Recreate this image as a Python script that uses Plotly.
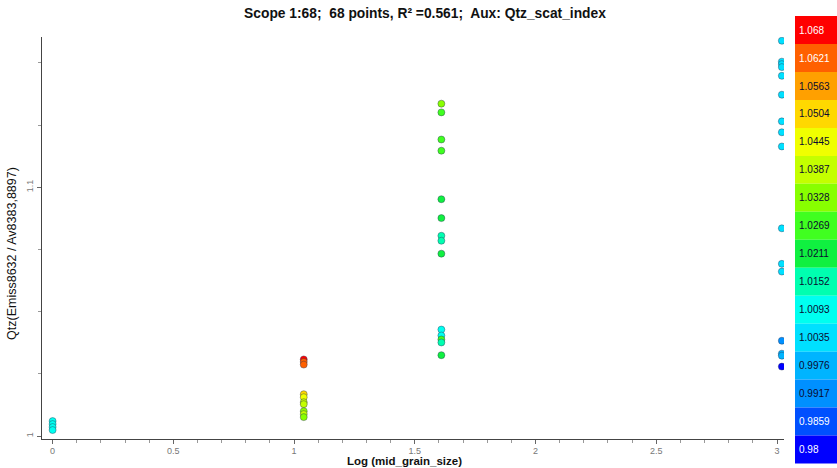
import plotly.graph_objects as go

# ---------------- data ----------------
x_log_size = ([0.0] * 4 + [1.04] * 10 + [1.61] * 14 + [3.02] * 16)
qtz_ratio = [
    1.0060, 1.0048, 1.0036, 1.0024,
    1.0308, 1.0298, 1.0287, 1.0168, 1.0156, 1.0136, 1.0128, 1.0100, 1.0088, 1.0076,
    1.1336, 1.1301, 1.1192, 1.1147, 1.0952, 1.0876, 1.0805, 1.0785, 1.0733,
    1.0428, 1.0404, 1.0388, 1.0376, 1.0325,
    1.1589, 1.1505, 1.1495, 1.1483, 1.1448, 1.1372, 1.1265, 1.1221, 1.1164,
    1.0835, 1.0692, 1.0661, 1.0383, 1.0331, 1.0323, 1.0279,
]
aux_index = [
    1.008, 1.008, 1.007, 1.007,
    1.068, 1.065, 1.062, 1.049, 1.047, 1.040, 1.038, 1.033, 1.036, 1.030,
    1.034, 1.028, 1.026, 1.026, 1.021, 1.020, 1.017, 1.017, 1.019,
    1.010, 1.011, 1.024, 1.014, 1.022,
    1.006, 1.006, 1.005, 1.006, 1.006, 1.006, 1.006, 1.005, 1.006,
    1.006, 1.005, 1.006, 0.993, 0.996, 0.997, 0.982,
]

band_labels = ["0.98", "0.9859", "0.9917", "0.9976", "1.0035", "1.0093", "1.0152", "1.0211",
               "1.0269", "1.0328", "1.0387", "1.0445", "1.0504", "1.0563", "1.0621", "1.068"]
band_colors = ["#0000ff", "#0050ff", "#0090ff", "#00b4ff", "#00e0ff", "#00fff0", "#00ffb0", "#10f040",
               "#40ff20", "#88ff00", "#c4ff00", "#f0ff00", "#ffd800", "#ffa000", "#ff6000", "#ff0000"]
band_text = ["white", "white", "#0a0a30", "#0a0a30", "#0a0a30", "#0a0a30", "#0a0a30", "#0a0a30",
             "#0a0a30", "#0a0a30", "#0a0a30", "#0a0a30", "#0a0a30", "#0a0a30", "white", "white"]

# ---------------- figure ----------------
W, H = 837, 468
ML, MR, MT, MB = 42, 53, 37, 27
pw, ph = W - ML - MR, H - MT - MB

def px_x(p):
    return (p - ML) / pw

def px_y(p):
    return (H - MB - p) / ph

nb = len(band_colors)
vmin, vmax = float(band_labels[0]), float(band_labels[-1])
step = (vmax - vmin) / (nb - 1)
cscale = []
for i, c in enumerate(band_colors):
    cscale.append([i / nb, c])
    cscale.append([(i + 1) / nb, c])

fig = go.Figure()
fig.add_trace(go.Scatter(
    x=x_log_size, y=qtz_ratio, mode="markers",
    marker=dict(size=7, color=aux_index, colorscale=cscale,
                cmin=vmin - step / 2, cmax=vmax + step / 2, showscale=False,
                line=dict(width=0.8, color="rgba(40,50,80,0.5)")),
    showlegend=False, hoverinfo="x+y",
))

# discrete colour key
top_px, band_h = 16, 28.1
shapes, annots = [], []
for k in range(nb):
    i = nb - 1 - k
    y0p = top_px + k * band_h
    shapes.append(dict(type="rect", xref="paper", yref="paper",
                       x0=px_x(795), x1=px_x(837), y0=px_y(y0p + band_h), y1=px_y(y0p),
                       fillcolor=band_colors[i], line=dict(width=0), layer="above"))
    annots.append(dict(xref="paper", yref="paper", x=px_x(797), y=px_y(y0p + band_h / 2),
                       text=band_labels[i], showarrow=False, xanchor="left", yanchor="middle",
                       font=dict(family="Arial, Liberation Sans", size=10, color=band_text[i])))

annots.append(dict(xref="paper", yref="paper", x=px_x(12), y=px_y(255),
                   text="Qtz(Emiss8632 / Av8383,8897)", textangle=-90, showarrow=False,
                   xanchor="center", yanchor="middle",
                   font=dict(family="Arial, Liberation Sans", size=12.5, color="#111")))
annots.append(dict(xref="paper", yref="paper", x=px_x(404), y=px_y(463.5),
                   text="<b>Log (mid_grain_size)</b>", showarrow=False,
                   xanchor="center", yanchor="middle",
                   font=dict(family="Arial, Liberation Sans", size=11.5, color="#111")))

fig.update_layout(
    width=W, height=H,
    margin=dict(l=ML, r=MR, t=MT, b=MB),
    paper_bgcolor="white", plot_bgcolor="white",
    title=dict(text="<b>Scope 1:68;  68 points, R² =0.561;  Aux: Qtz_scat_index</b>",
               x=425 / W, xanchor="center", y=1 - 13 / H, yanchor="middle",
               font=dict(family="Arial, Liberation Sans", size=13.8, color="#111")),
    shapes=shapes, annotations=annots,
    xaxis=dict(range=[-0.044, 3.029], showgrid=False, zeroline=False,
               showline=True, linecolor="#444", linewidth=1,
               ticks="outside", ticklen=4, tickcolor="#666", dtick=0.5, tick0=0,
               ticklabelstandoff=-1,
               tickfont=dict(family="Arial, Liberation Sans", size=9, color="#777"),
               minor=dict(dtick=0.1, tick0=0, ticks="outside", ticklen=3, tickcolor="#999"),
               fixedrange=True),
    yaxis=dict(range=[0.9988, 1.1604], showgrid=False, zeroline=False,
               showline=True, linecolor="#444", linewidth=1,
               ticks="outside", ticklen=4, tickcolor="#666", dtick=0.1, tick0=1,
               tickangle=-90,
               tickfont=dict(family="Arial, Liberation Sans", size=9, color="#777"),
               minor=dict(dtick=0.025, tick0=1, ticks="outside", ticklen=3, tickcolor="#999"),
               fixedrange=True),
)

fig.write_html("out.html")
